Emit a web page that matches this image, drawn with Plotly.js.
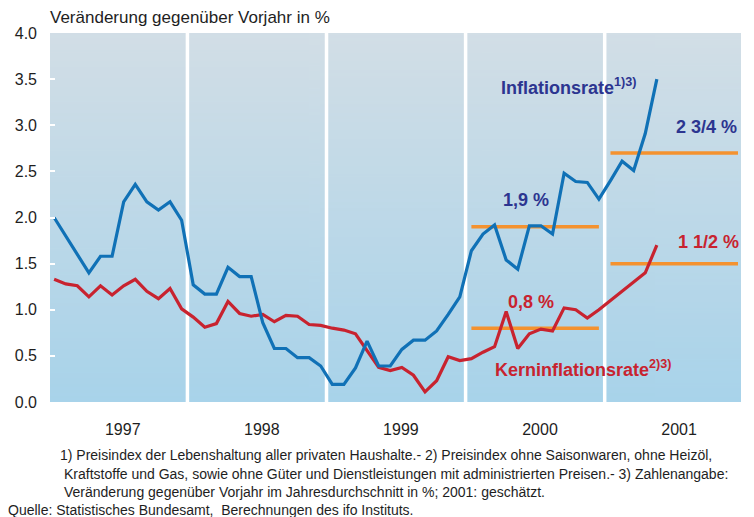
<!DOCTYPE html>
<html>
<head>
<meta charset="utf-8">
<script src="https://cdn.plot.ly/plotly-3.0.1.min.js"></script>
<style>
html,body{margin:0;padding:0;background:#fff;}
#chart{width:754px;height:517px;}
</style>
</head>
<body>
<div id="chart"></div>
<script>
// ---- data ----
const years = [1997, 1998, 1999, 2000, 2001];
const yearLabels = ['1997', '1998', '1999', '2000', '2001'];
const startYear = 1997;
// monthly values from Jan 1997 to May 2001
const inflation = [
  2.00, 1.80, 1.60, 1.40, 1.58, 1.58, 2.17, 2.36, 2.17, 2.08, 2.17, 1.97,
  1.27, 1.17, 1.17, 1.46, 1.36, 1.36, 0.86, 0.58, 0.58, 0.48, 0.48, 0.39,
  0.19, 0.19, 0.37, 0.66, 0.39, 0.39, 0.57, 0.67, 0.67, 0.77, 0.95, 1.14,
  1.64, 1.82, 1.92, 1.54, 1.44, 1.91, 1.91, 1.82, 2.48, 2.39, 2.38, 2.20,
  2.40, 2.61, 2.51, 2.91, 3.50
];
const coreInflation = [
  1.33, 1.28, 1.26, 1.14, 1.26, 1.16, 1.26, 1.33, 1.20, 1.12, 1.23, 1.01,
  0.92, 0.81, 0.85, 1.09, 0.96, 0.93, 0.95, 0.87, 0.94, 0.93, 0.84, 0.83,
  0.80, 0.78, 0.74, 0.56, 0.375, 0.34, 0.375, 0.29, 0.11, 0.23, 0.49, 0.45,
  0.47, 0.54, 0.60, 0.98, 0.58, 0.74, 0.79, 0.77, 1.02, 1.00, 0.91, 1.00,
  1.10, 1.20, 1.30, 1.40, 1.70
];
const avgYears = [2000, 2001];
const inflationAvg = [1.9, 2.7];
const coreAvg = [0.8, 1.5];
const inflationAvgLabels = ['1,9 %', '2 3/4 %'];
const coreAvgLabels = ['0,8 %', '1 1/2 %'];
const yTicks = [0, 0.5, 1, 1.5, 2, 2.5, 3, 3.5, 4];

// ---- derived ----
const monthX = inflation.map((_, i) => startYear + (i + 0.5) / 12);

const BLUE = '#1071b6', RED = '#c8232f', ORANGE = '#f4922f', NAVY = '#2c3590', TXT = '#1e1e1e';
const FONT = 'Liberation Sans, Arial, Helvetica, sans-serif';

const traces = [];
avgYears.forEach((y, i) => {
  traces.push({x: [y + 0.5/12, y + 11.5/12], y: [inflationAvg[i], inflationAvg[i]], mode: 'lines',
    line: {color: ORANGE, width: 3.5}, hoverinfo: 'skip', showlegend: false});
  traces.push({x: [y + 0.5/12, y + 11.5/12], y: [coreAvg[i], coreAvg[i]], mode: 'lines',
    line: {color: ORANGE, width: 3.5}, hoverinfo: 'skip', showlegend: false});
});
traces.push({x: monthX, y: coreInflation, mode: 'lines', line: {color: RED, width: 3.2}, showlegend: false});
traces.push({x: monthX, y: inflation, mode: 'lines', line: {color: BLUE, width: 3.2}, showlegend: false});

// plot box in pixels
const L = 50, R = 741, T = 33, B = 402;
const px = v => (v - L) / (R - L);
const py = v => (B - v) / (B - T);

// gradient background image
const cv = document.createElement('canvas');
cv.width = 4; cv.height = 256;
const ctx = cv.getContext('2d');
const g = ctx.createLinearGradient(0, 0, 0, 256);
g.addColorStop(0, '#d2dee6');
g.addColorStop(1, '#a8d3ea');
ctx.fillStyle = g; ctx.fillRect(0, 0, 4, 256);
const bgURL = cv.toDataURL('image/png');

const shapes = years.slice(1).map(y => ({
  type: 'line', xref: 'x', yref: 'paper', x0: y, x1: y, y0: 0, y1: 1,
  line: {color: '#ffffff', width: 3.5}, layer: 'below'
}));

const annotations = [];
annotations.push({xref: 'paper', yref: 'paper', x: px(526), y: py(200), text: '<b>' + inflationAvgLabels[0] + '</b>',
  showarrow: false, xanchor: 'center', yanchor: 'middle', font: {family: FONT, size: 18, color: NAVY}});
annotations.push({xref: 'paper', yref: 'paper', x: px(531), y: py(302), text: '<b>' + coreAvgLabels[0] + '</b>',
  showarrow: false, xanchor: 'center', yanchor: 'middle', font: {family: FONT, size: 18, color: RED}});
annotations.push({xref: 'paper', yref: 'paper', x: px(739), y: py(127), text: '<b>' + inflationAvgLabels[1] + '</b>',
  showarrow: false, xanchor: 'right', yanchor: 'middle', font: {family: FONT, size: 18, color: NAVY}});
annotations.push({xref: 'paper', yref: 'paper', x: px(741), y: py(242), text: '<b>' + coreAvgLabels[1] + '</b>',
  showarrow: false, xanchor: 'right', yanchor: 'middle', font: {family: FONT, size: 18, color: RED}});
annotations.push({xref: 'paper', yref: 'paper', x: px(499), y: py(86), text: '<b>Inflationsrate<sup>1)3)</sup></b>',
  showarrow: false, xanchor: 'left', yanchor: 'middle', font: {family: FONT, size: 18, color: NAVY}});
annotations.push({xref: 'paper', yref: 'paper', x: px(493), y: py(368), text: '<b>Kerninflationsrate<sup>2)3)</sup></b>',
  showarrow: false, xanchor: 'left', yanchor: 'middle', font: {family: FONT, size: 18, color: RED}});
const foot = [
  ['1) Preisindex der Lebenshaltung aller privaten Haushalte.- 2) Preisindex ohne Saisonwaren, ohne Heizöl,', 58, 455],
  ['Kraftstoffe und Gas, sowie ohne Güter und Dienstleistungen mit administrierten Preisen.- 3) Zahlenangabe:', 62, 474],
  ['Veränderung gegenüber Vorjahr im Jahresdurchschnitt in %; 2001: geschätzt.', 62, 492],
  ['Quelle: Statistisches Bundesamt,  Berechnungen des ifo Instituts.', 6, 510]
];
foot.forEach(f => annotations.push({xref: 'paper', yref: 'paper', x: px(f[1]), y: py(f[2]), text: f[0],
  showarrow: false, xanchor: 'left', yanchor: 'middle', font: {family: FONT, size: 14, color: TXT}}));

const layout = {
  width: 754, height: 517,
  margin: {l: L, r: 754 - R, t: T, b: 517 - B, pad: 0},
  paper_bgcolor: '#ffffff', plot_bgcolor: 'rgba(0,0,0,0)',
  title: {text: 'Veränderung gegenüber Vorjahr in %', xref: 'container', yref: 'container',
    x: 50 / 754, xanchor: 'left', y: 1 - 17 / 517, yanchor: 'middle',
    font: {family: FONT, size: 17, color: TXT}},
  xaxis: {range: [startYear + 0.012, 2001.98], tickvals: years.map(y => y + 0.535), ticktext: yearLabels,
    showgrid: false, zeroline: false, showline: false, ticks: '', ticklabelstandoff: 16,
    tickfont: {family: FONT, size: 16, color: TXT}, fixedrange: true},
  yaxis: {range: [0, 4], tickvals: yTicks, ticktext: yTicks.map(v => v.toFixed(1)),
    showgrid: false, zeroline: false, showline: false, ticks: 'inside', ticklen: 5, tickwidth: 2, tickcolor: '#ffffff',
    ticklabelstandoff: 12, tickfont: {family: FONT, size: 16, color: TXT}, fixedrange: true},
  images: [{source: bgURL, xref: 'paper', yref: 'paper', x: 0, y: 1, sizex: 1, sizey: 1,
    sizing: 'stretch', xanchor: 'left', yanchor: 'top', layer: 'below'}],
  shapes: shapes,
  annotations: annotations,
  showlegend: false
};

Plotly.newPlot('chart', traces, layout, {staticPlot: true, displayModeBar: false});
</script>
</body>
</html>
